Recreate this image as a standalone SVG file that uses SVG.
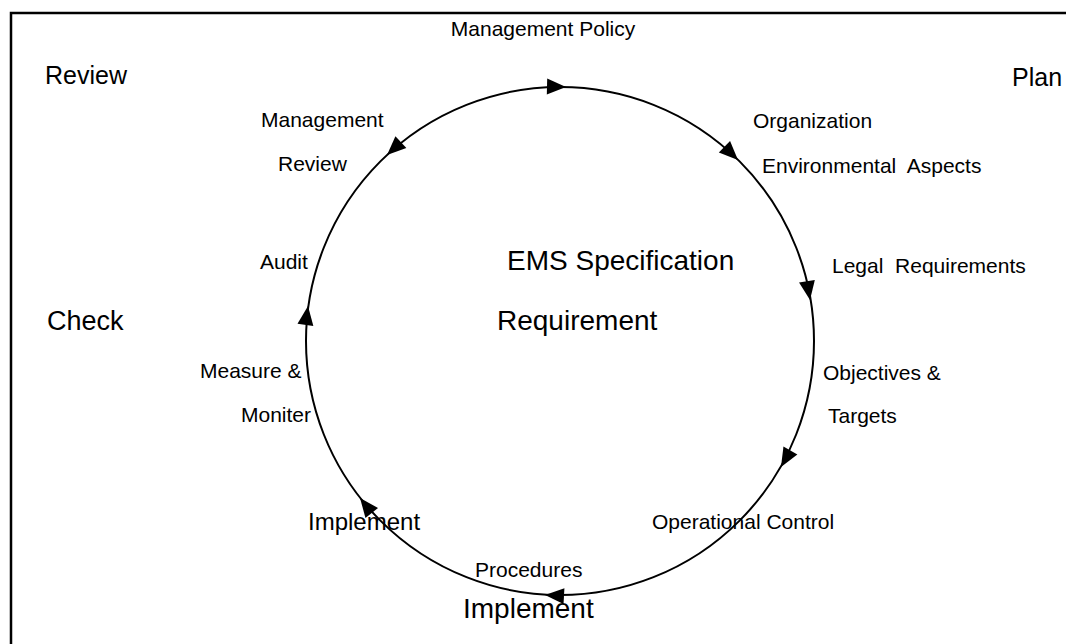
<svg xmlns="http://www.w3.org/2000/svg" xmlns:xlink="http://www.w3.org/1999/xlink" width="1066" height="644" viewBox="0 0 1066 644">
  <style>
    text { font-family: "Liberation Sans", Arial, sans-serif; fill: #000; }
    .phase { font-size: 25px; }
    .phase-lg { font-size: 27px; }
    .lbl { font-size: 21px; }
    .core { font-size: 28px; }
    .impl { font-size: 24px; }
    .implb { font-size: 28px; }
    .ring { fill: none; stroke: #000; stroke-width: 2; }
    .frame { fill: none; stroke: #000; stroke-width: 2.5; }
    .tip { fill: #000; }
  </style>
  <defs>
    <!-- arrowhead with its point at the origin, facing +x -->
    <path id="ah" class="tip" d="M0,0 L-19,-8 L-19,8 Z"/>
  </defs>

  <!-- page frame (top and left edges) -->
  <path class="frame" d="M11,644 V13 H1066"/>

  <!-- connectors: the EMS cycle ring and its direction arrows -->
  <g id="connectors">
    <circle class="ring" cx="560" cy="341" r="254"/>
    <use xlink:href="#ah" transform="translate(566,87) rotate(1.4)"/>
    <use xlink:href="#ah" transform="translate(387,155) rotate(137)"/>
    <use xlink:href="#ah" transform="translate(738,160) rotate(44.5)"/>
    <use xlink:href="#ah" transform="translate(810,300) rotate(80.7)"/>
    <use xlink:href="#ah" transform="translate(781,467) rotate(119.7)"/>
    <use xlink:href="#ah" transform="translate(545,595) rotate(183.4)"/>
    <use xlink:href="#ah" transform="translate(360,498) rotate(231.8)"/>
    <use xlink:href="#ah" transform="translate(308,306) rotate(-82.2)"/>
  </g>

  <!-- phase headings -->
  <g id="phase-review"><text class="phase" x="45" y="84">Review</text></g>
  <g id="phase-plan"><text class="phase" x="1012" y="86">Plan</text></g>
  <g id="phase-check"><text class="phase-lg" x="47" y="330">Check</text></g>

  <!-- centre -->
  <g id="ems-core">
    <text class="core" x="507" y="270">EMS Specification</text>
    <text class="core" x="497" y="330">Requirement</text>
  </g>

  <!-- cycle steps -->
  <g id="management-policy"><text class="lbl" x="543" y="36" text-anchor="middle">Management Policy</text></g>
  <g id="organization"><text class="lbl" x="753" y="128">Organization</text></g>
  <g id="environmental-aspects"><text class="lbl" x="762" y="173" xml:space="preserve">Environmental  Aspects</text></g>
  <g id="legal-requirements"><text class="lbl" x="832" y="273" xml:space="preserve">Legal  Requirements</text></g>
  <g id="objectives-targets">
    <text class="lbl" x="823" y="380">Objectives &amp;</text>
    <text class="lbl" x="828" y="423">Targets</text>
  </g>
  <g id="operational-control"><text class="lbl" x="652" y="529">Operational Control</text></g>
  <g id="procedures"><text class="lbl" x="475" y="577">Procedures</text></g>
  <g id="implement-bottom"><text class="implb" x="463" y="618">Implement</text></g>
  <g id="implement-left"><text class="impl" x="308" y="530">Implement</text></g>
  <g id="measure-monitor">
    <text class="lbl" x="200" y="378">Measure &amp;</text>
    <text class="lbl" x="241" y="422">Moniter</text>
  </g>
  <g id="audit"><text class="lbl" x="260" y="269">Audit</text></g>
  <g id="management-review">
    <text class="lbl" x="261" y="127">Management</text>
    <text class="lbl" x="278" y="171">Review</text>
  </g>
</svg>
